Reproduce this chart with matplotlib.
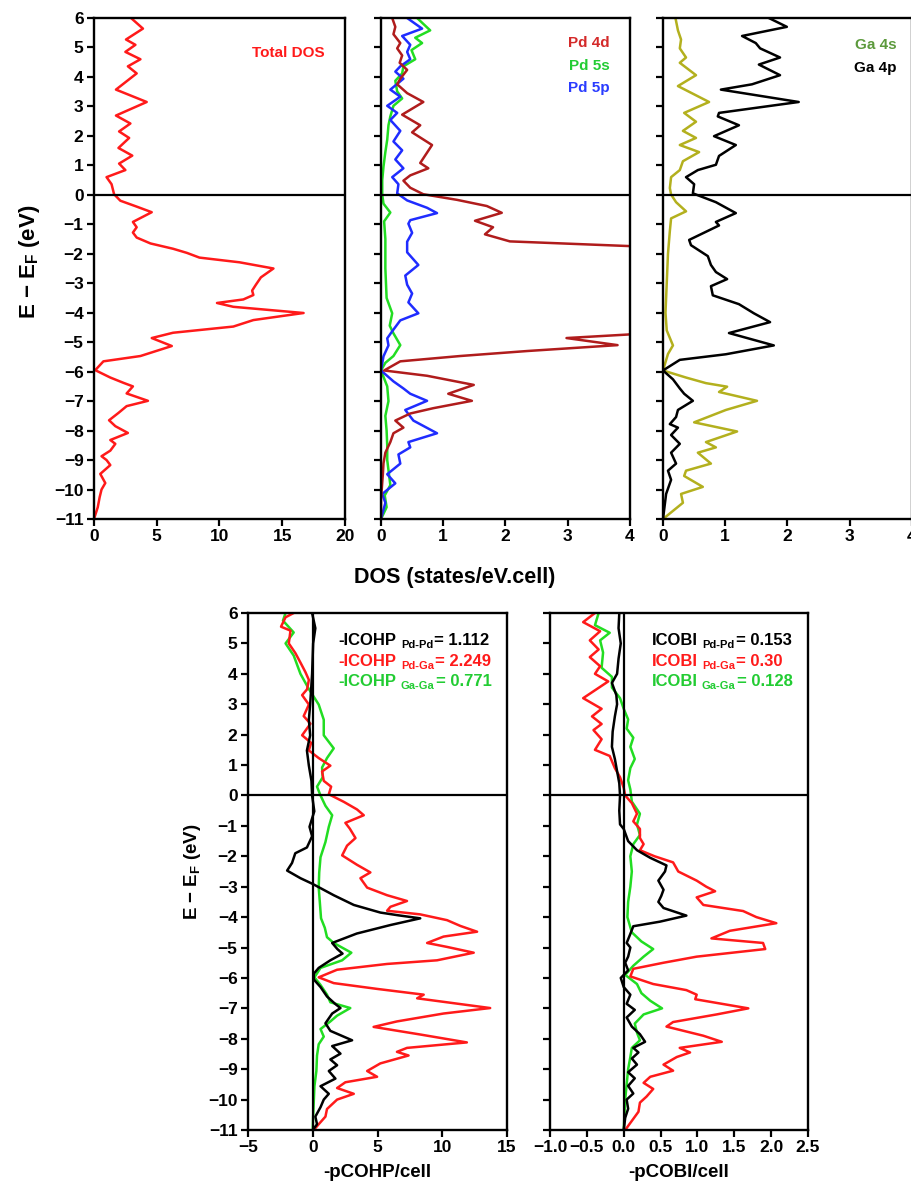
import numpy as np
import matplotlib
matplotlib.use("Agg")
import matplotlib.pyplot as plt

plt.rcParams['font.family'] = ['Liberation Sans', 'DejaVu Sans']
plt.rcParams['font.weight'] = 'bold'
plt.rcParams['axes.labelweight'] = 'bold'
plt.rcParams['mathtext.fontset'] = 'custom'
plt.rcParams['mathtext.rm'] = 'Liberation Sans:bold'
plt.rcParams['mathtext.it'] = 'Liberation Sans:bold'
plt.rcParams['mathtext.bf'] = 'Liberation Sans:bold'
plt.rcParams['mathtext.default'] = 'rm'
plt.rcParams['lines.solid_joinstyle'] = 'round'

# ---- data: (energy, value) pairs per curve ----
# Total DOS
e_tot = [6.0, 5.64, 5.27, 5.09, 4.85, 4.6, 4.36, 4.12, 3.57, 3.15, 2.69, 2.42, 2.15, 1.93, 1.59, 1.33,
         1.06, 0.84, 0.6, 0.36, 0.02, -0.2, -0.4, -0.59, -0.92, -1.1, -1.28, -1.45, -1.65, -1.83, -1.97,
         -2.13, -2.29, -2.5, -2.8, -3.05, -3.25, -3.4, -3.55, -3.67, -3.8, -4.01, -4.25, -4.47, -4.68,
         -4.86, -5.13, -5.47, -5.65, -5.95, -6.2, -6.38, -6.5, -6.74, -6.99, -7.17, -7.4, -7.65, -7.85,
         -8.08, -8.32, -8.45, -8.68, -8.87, -9.0, -9.17, -9.47, -9.78, -10.0, -10.26, -10.6, -11.0]
dos_tot = [2.95, 3.9, 2.55, 3.3, 2.5, 3.7, 2.7, 3.4, 1.75, 4.2, 1.75, 2.9, 2.0, 2.8, 1.95, 3.05,
           2.0, 2.5, 1.0, 1.4, 1.6, 2.1, 3.4, 4.6, 3.1, 3.4, 3.1, 3.4, 4.5, 6.3, 7.4,
           8.4, 11.6, 14.3, 13.3, 12.9, 12.6, 12.7, 11.9, 9.8, 11.1, 16.7, 12.7, 11.1, 6.3,
           4.6, 6.2, 3.7, 0.75, 0.1, 1.3, 2.35, 3.1, 2.6, 4.3, 2.6, 1.95, 1.2, 1.7,
           2.7, 1.3, 1.7, 1.3, 0.6, 1.0, 1.3, 0.5, 0.9, 0.6, 0.45, 0.3, 0.0]

# Pd 4d
e_pd4d = [6.0, 5.7, 5.45, 5.15, 4.97, 4.73, 4.48, 4.24, 3.94, 3.75, 3.45, 3.15, 2.72, 2.36, 2.12, 1.69,
          1.08, 0.9, 0.66, 0.48, 0.24, 0.02, -0.17, -0.38, -0.61, -0.88, -1.1, -1.34, -1.58, -1.74,
          -1.85, -2.4, -3.0, -4.0, -4.6, -4.74, -4.86, -5.1, -5.3, -5.47, -5.65, -5.96, -6.14, -6.45,
          -6.75, -6.99, -7.24, -7.42, -7.66, -7.9, -8.09, -8.39, -8.75, -9.11, -9.48, -10.33, -11.0]
dos_pd4d = [0.18, 0.23, 0.2, 0.31, 0.26, 0.34, 0.3, 0.42, 0.31, 0.26, 0.42, 0.68, 0.34, 0.63, 0.5, 0.82,
            0.63, 0.76, 0.47, 0.36, 0.47, 0.68, 1.22, 1.7, 1.94, 1.51, 1.8, 1.67, 2.07, 4.0,
            4.6, 6.5, 5.8, 7.0, 4.6, 3.97, 2.98, 3.8, 2.35, 1.27, 0.31, 0.05, 0.74, 1.49,
            1.08, 1.46, 0.84, 0.47, 0.23, 0.36, 0.2, 0.15, 0.07, 0.04, 0.03, 0.0, 0.0]

# Pd 5s
e_pd5s = [6.0, 5.58, 5.33, 5.15, 4.91, 4.6, 4.36, 4.12, 3.87, 3.51, 3.27, 3.02, 2.66, 2.36, 1.87, 1.45,
          0.96, 0.5, 0.0, -0.3, -0.6, -0.9, -1.5, -2.5, -3.5, -4.02, -4.44, -4.7, -5.1, -5.47, -5.7,
          -5.96, -6.5, -7.0, -7.5, -8.0, -8.5, -9.0, -9.85, -10.2, -10.6, -11.0]
dos_pd5s = [0.58, 0.79, 0.55, 0.66, 0.49, 0.55, 0.36, 0.34, 0.23, 0.26, 0.34, 0.2, 0.15, 0.12, 0.1, 0.07,
            0.04, 0.02, 0.02, 0.04, 0.15, 0.05, 0.07, 0.07, 0.09, 0.18, 0.14, 0.2, 0.31, 0.2, 0.07,
            0.0, 0.1, 0.12, 0.07, 0.09, 0.1, 0.1, 0.15, 0.06, 0.09, 0.0]

# Pd 5p
e_pd5p = [6.0, 5.64, 5.39, 5.09, 4.85, 4.6, 4.36, 4.18, 3.94, 3.57, 3.33, 3.02, 2.78, 2.54, 2.17, 1.81,
          1.51, 1.2, 0.9, 0.6, 0.36, 0.05, -0.19, -0.44, -0.62, -0.86, -0.98, -1.29, -1.59, -1.95,
          -2.38, -2.74, -3.05, -3.35, -3.65, -4.02, -4.26, -4.63, -4.87, -5.11, -5.48, -5.96, -6.33,
          -6.57, -6.75, -6.99, -7.3, -7.66, -8.09, -8.39, -8.57, -8.81, -9.12, -9.48, -9.79, -10.15,
          -10.45, -11.0]
dos_pd5p = [0.42, 0.66, 0.34, 0.47, 0.42, 0.47, 0.31, 0.23, 0.36, 0.15, 0.31, 0.1, 0.26, 0.15, 0.31, 0.2,
            0.34, 0.23, 0.36, 0.18, 0.28, 0.26, 0.42, 0.74, 0.9, 0.47, 0.44, 0.5, 0.42, 0.42,
            0.6, 0.39, 0.42, 0.5, 0.44, 0.6, 0.31, 0.18, 0.1, 0.12, 0.04, 0.0, 0.2,
            0.36, 0.47, 0.74, 0.39, 0.52, 0.9, 0.44, 0.47, 0.28, 0.31, 0.1, 0.23, 0.02,
            0.07, 0.0]

# Ga 4s
e_ga4s = [6.0, 5.58, 5.27, 4.97, 4.66, 4.48, 4.06, 3.69, 3.15, 2.78, 2.48, 2.17, 1.93, 1.69, 1.45, 1.14,
          0.84, 0.6, 0.23, 0.01, -0.25, -0.56, -0.8, -1.23, -2.0, -3.0, -4.0, -4.6, -5.11, -5.4, -5.96,
          -6.2, -6.39, -6.51, -6.69, -6.99, -7.3, -7.72, -8.03, -8.39, -8.57, -8.75, -9.12, -9.36,
          -9.54, -9.91, -10.15, -10.45, -11.0]
dos_ga4s = [0.2, 0.24, 0.29, 0.27, 0.37, 0.27, 0.53, 0.24, 0.74, 0.34, 0.53, 0.32, 0.53, 0.27, 0.58, 0.32,
            0.27, 0.13, 0.11, 0.13, 0.21, 0.37, 0.13, 0.11, 0.08, 0.06, 0.04, 0.06, 0.16, 0.08, 0.0,
            0.37, 0.69, 1.03, 0.9, 1.51, 1.01, 0.5, 1.19, 0.69, 0.85, 0.56, 0.77, 0.37,
            0.34, 0.64, 0.29, 0.32, 0.0]

# Ga 4p
e_ga4p = [6.0, 5.7, 5.39, 5.15, 4.97, 4.66, 4.42, 4.06, 3.75, 3.57, 3.15, 2.78, 2.66, 2.36, 1.99, 1.69,
          1.32, 1.02, 0.84, 0.6, 0.36, 0.05, -0.25, -0.62, -0.92, -1.04, -1.53, -1.71, -2.08, -2.38,
          -2.62, -2.86, -3.1, -3.41, -3.71, -4.02, -4.32, -4.69, -5.11, -5.41, -5.6, -5.96, -6.26,
          -6.57, -6.75, -6.99, -7.3, -7.54, -7.78, -7.9, -8.15, -8.45, -8.75, -9.12, -9.36, -9.67,
          -10.15, -11.0]
dos_ga4p = [1.7, 1.99, 1.27, 1.49, 1.56, 1.88, 1.54, 1.88, 1.43, 0.93, 2.18, 0.9, 0.88, 1.22, 0.82, 1.17,
            0.9, 0.85, 0.56, 0.37, 0.5, 0.48, 0.85, 1.17, 0.85, 0.9, 0.42, 0.45, 0.72, 0.77,
            0.85, 1.03, 0.77, 0.8, 1.22, 1.46, 1.72, 1.06, 1.78, 1.01, 0.27, 0.0, 0.16,
            0.27, 0.34, 0.48, 0.24, 0.21, 0.11, 0.24, 0.13, 0.27, 0.13, 0.21, 0.08, 0.13,
            0.05, 0.0]

# -pCOHP
e_cohp_pdpd = [6.0, 5.5, 5.0, 4.0, 2.99, 2.49, 1.98, 1.48, 0.98, 0.48, 0.0, -0.52, -1.03, -1.34, -1.71,
               -1.9, -2.22, -2.47, -2.72, -2.91, -3.28, -3.6, -3.85, -3.94, -4.04, -4.26, -4.54, -4.85,
               -5.05, -5.2, -5.42, -5.67, -5.86, -6.05, -6.3, -6.61, -6.86, -6.99, -7.17, -7.49, -7.74,
               -8.05, -8.24, -8.49, -8.68, -8.87, -9.06, -9.31, -9.56, -9.81, -10.0, -10.25, -10.56,
               -10.81, -11.0]
cohp_pdpd = [-0.05, 0.2, 0.03, -0.05, -0.2, -0.3, -0.2, -0.45, -0.3, -0.1, -0.05, 0.12, -0.25, -0.05, -0.45,
             -1.35, -1.6, -1.98, -0.95, 0.0, 1.62, 3.17, 5.22, 6.6, 8.3, 6.0, 3.4, 1.5,
             1.9, 2.3, 1.36, 0.46, 0.08, 0.08, 0.6, 1.1, 1.75, 2.14, 1.5, 0.98, 1.36,
             3.04, 1.5, 2.14, 1.36, 1.88, 1.24, 1.75, 0.6, 1.24, 0.85, 0.6, 0.2,
             0.33, 0.0]

e_cohp_pdga = [6.0, 5.86, 5.55, 5.42, 5.0, 4.68, 4.37, 4.06, 3.8, 3.49, 3.3, 2.99, 2.61, 2.36, 1.98, 1.73,
               1.48, 1.23, 0.98, 0.79, 0.48, 0.29, 0.04, -0.21, -0.46, -0.65, -0.9, -1.09, -1.4, -1.65,
               -1.97, -2.28, -2.53, -2.72, -3.03, -3.28, -3.47, -3.66, -3.79, -3.91, -4.1, -4.29, -4.48,
               -4.64, -4.85, -4.98, -5.17, -5.42, -5.54, -5.73, -5.98, -6.17, -6.36, -6.55, -6.67, -6.99,
               -7.17, -7.43, -7.61, -7.86, -8.12, -8.3, -8.43, -8.55, -8.81, -9.06, -9.25, -9.43, -9.62,
               -9.81, -10.0, -10.31, -10.56, -10.81, -11.0]
cohp_pdga = [-1.47, -2.1, -2.45, -1.72, -1.85, -1.34, -0.95, -0.57, -0.3, -0.44, -0.82, -0.3, -0.7, -0.18, -0.82, -0.13,
             -0.3, 0.46, 1.36, 0.72, 0.85, 1.42, 1.24, 2.4, 3.42, 3.94, 2.52, 2.86, 3.3, 2.65,
             2.27, 3.42, 4.45, 3.68, 4.2, 5.74, 7.28, 6.0, 5.74, 8.3, 10.37, 11.4, 12.69,
             10.1, 8.83, 10.37, 12.43, 9.6, 5.74, 1.88, 0.46, 1.62, 4.96, 8.57, 8.06, 13.7,
             10.1, 6.5, 4.7, 8.3, 11.9, 7.28, 6.5, 7.4, 5.22, 4.2, 4.97, 2.52, 1.88,
             3.17, 1.88, 1.1, 0.98, 0.46, 0.08]

e_cohp_gaga = [6.0, 5.75, 5.36, 5.0, 4.6, 4.0, 3.5, 2.99, 2.49, 1.98, 1.55, 1.23, 0.92, 0.6, 0.29, 0.0,
               -0.34, -0.65, -1.03, -1.53, -2.03, -2.53, -3.03, -3.53, -4.04, -4.35, -4.66, -4.85, -5.17,
               -5.42, -5.67, -5.98, -6.23, -6.55, -6.8, -6.99, -7.24, -7.43, -7.68, -7.93, -8.18, -8.55,
               -9.06, -9.56, -10.06, -10.56, -11.0]
cohp_gaga = [-2.1, -2.3, -1.47, -2.1, -1.47, -0.95, -0.3, 0.46, 0.85, 0.85, 1.62, 1.1, 0.72, 0.77, 0.33, 0.6,
             0.98, 1.5, 1.24, 0.98, 0.6, 0.5, 0.46, 0.55, 0.64, 0.93, 1.1, 1.62, 2.98,
             2.27, 0.6, 0.13, 0.6, 1.1, 1.36, 2.9, 1.88, 1.36, 0.6, 0.85, 0.46, 0.33,
             0.28, 0.13, 0.08, 0.03, 0.0]

# -pCOBI
e_cobi_pdpd = [6.0, 5.5, 5.0, 4.5, 4.0, 3.7, 3.3, 3.0, 2.6, 2.1, 1.6, 1.2, 0.8, 0.4, 0.0, -0.5, -0.95, -1.1,
               -1.5, -1.8, -2.05, -2.3, -2.5, -2.8, -3.1, -3.3, -3.5, -3.7, -3.95, -4.15, -4.3, -4.55,
               -4.85, -5.0, -5.3, -5.5, -5.75, -6.0, -6.3, -6.55, -6.85, -7.05, -7.3, -7.6, -7.85, -8.1,
               -8.3, -8.45, -8.65, -8.85, -9.1, -9.3, -9.55, -9.8, -10.0, -10.3, -10.6, -11.0]
cobi_pdpd = [-0.06, -0.07, -0.04, -0.07, -0.09, -0.16, -0.1, -0.09, -0.12, -0.15, -0.16, -0.12, -0.09, -0.06,
             -0.05, -0.06, -0.05, 0.0, 0.06, 0.18, 0.36, 0.58, 0.56, 0.47, 0.54, 0.51, 0.47, 0.54, 0.85,
             0.49, 0.13, 0.09, 0.04, 0.09, 0.06, 0.02, 0.06, -0.04, 0.0, 0.09, 0.04, 0.15, 0.04, 0.11,
             0.22, 0.29, 0.13, 0.2, 0.11, 0.18, 0.06, 0.15, 0.06, 0.13, 0.04, 0.06, 0.02, 0.0]

e_cobi_pdga = [6.0, 5.7, 5.4, 5.1, 4.8, 4.55, 4.25, 4.0, 3.75, 3.2, 2.85, 2.6, 2.35, 2.15, 1.85, 1.5, 1.3,
               0.9, 0.6, 0.25, 0.0, -0.25, -0.6, -0.85, -1.1, -1.4, -1.6, -1.8, -2.0, -2.2, -2.5, -2.8,
               -3.0, -3.15, -3.35, -3.6, -3.8, -4.0, -4.2, -4.45, -4.7, -4.85, -5.05, -5.3, -5.5, -5.7,
               -5.95, -6.2, -6.4, -6.55, -6.7, -7.0, -7.2, -7.45, -7.6, -7.9, -8.1, -8.3, -8.45, -8.6,
               -8.85, -9.05, -9.25, -9.45, -9.65, -9.9, -10.1, -10.4, -10.7, -11.0]
cobi_pdga = [-0.39, -0.55, -0.32, -0.46, -0.34, -0.46, -0.32, -0.39, -0.21, -0.55, -0.3, -0.43, -0.3, -0.41,
             -0.3, -0.39, -0.19, -0.12, -0.05, 0.0, 0.02, 0.11, 0.18, 0.13, 0.22, 0.22, 0.27, 0.22, 0.42,
             0.67, 0.74, 0.99, 1.12, 1.24, 0.99, 1.08, 1.62, 1.8, 2.07, 1.44, 1.19, 1.89, 1.92, 0.99,
             0.54, 0.13, 0.09, 0.4, 0.85, 0.99, 0.97, 1.69, 1.26, 0.67, 0.58, 1.08, 1.33, 0.76, 0.9,
             0.72, 0.54, 0.67, 0.36, 0.27, 0.4, 0.31, 0.22, 0.2, 0.11, 0.02]

e_cobi_gaga = [6.0, 5.6, 5.35, 5.1, 4.7, 4.2, 3.9, 3.55, 3.2, 2.85, 2.5, 2.2, 1.9, 1.6, 1.2, 0.9, 0.5, 0.2,
               -0.2, -0.6, -0.95, -1.3, -1.6, -2.0, -2.5, -3.0, -3.5, -4.0, -4.5, -4.8, -5.05, -5.3, -5.6,
               -5.9, -6.2, -6.5, -6.75, -7.0, -7.2, -7.5, -7.8, -8.05, -8.3, -8.6, -9.0, -9.5, -10.0,
               -10.5, -11.0]
cobi_gaga = [-0.34, -0.39, -0.19, -0.32, -0.28, -0.3, -0.16, -0.16, -0.05, 0.0, 0.06, 0.04, 0.13, 0.09, 0.15,
             0.09, 0.06, 0.09, 0.11, 0.22, 0.18, 0.22, 0.13, 0.09, 0.11, 0.09, 0.06, 0.05, 0.11, 0.24,
             0.4, 0.27, 0.13, 0.02, 0.18, 0.24, 0.36, 0.52, 0.27, 0.15, 0.18, 0.22, 0.11, 0.09, 0.06,
             0.04, 0.02, 0.01, 0.0]

# labels
cohp_names = ["Pd-Pd", "Pd-Ga", "Ga-Ga"]
icohp_vals = ["1.112", "2.249", "0.771"]
icobi_vals = ["0.153", "0.30", "0.128"]

RED = '#ff1a1a'
DARKRED = '#b01c1c'
GREEN = '#22dd22'
BLUE = '#1f2cff'
OLIVE = '#b3b01e'
BLACK = '#000000'
LW = 1.8
TICK_FS = 12.5

W, H = 912, 1188
fig = plt.figure(figsize=(W / 100, H / 100), dpi=100)


def rect(x0, x1, ytop, ybot):
    return [x0 / W, 1 - ybot / H, (x1 - x0) / W, (ybot - ytop) / H]


def style(ax, ylabels=True):
    for s in ax.spines.values():
        s.set_linewidth(1.7)
    ax.set_ylim(-11, 6)
    ax.set_yticks(range(-11, 7))
    ax.tick_params(direction='out', length=5, width=1.6, labelsize=TICK_FS, pad=2.5)
    if not ylabels:
        ax.tick_params(labelleft=False)
    ax.axhline(0, color='k', lw=1.6, zorder=3)


ax1 = fig.add_axes(rect(94, 345, 18, 519))
ax2 = fig.add_axes(rect(381, 630, 18, 519))
ax3 = fig.add_axes(rect(663, 912, 18, 519))
ax4 = fig.add_axes(rect(248, 507, 613, 1130))
ax5 = fig.add_axes(rect(550, 808, 613, 1130))

# top: DOS panels
ax1.plot(dos_tot, e_tot, color=RED, lw=LW)
ax1.set_xlim(0, 20)
ax1.set_xticks([0, 5, 10, 15, 20])
style(ax1)
ax1.text(18.4, 4.8, 'Total DOS', color=RED, fontsize=11, ha='right', va='center')

ax2.plot(dos_pd5s, e_pd5s, color=GREEN, lw=LW)
ax2.plot(dos_pd5p, e_pd5p, color=BLUE, lw=LW)
ax2.plot(dos_pd4d, e_pd4d, color=DARKRED, lw=LW)
ax2.set_xlim(0, 4)
ax2.set_xticks([0, 1, 2, 3, 4])
style(ax2, ylabels=False)
for lab, col, yy in zip(['Pd 4d', 'Pd 5s', 'Pd 5p'], ['#d42a2a', '#22cc33', '#2a3cff'], [5.15, 4.38, 3.63]):
    ax2.text(3.68, yy, lab, color=col, fontsize=11, ha='right', va='center')

ax3.plot(dos_ga4s, e_ga4s, color=OLIVE, lw=LW)
ax3.plot(dos_ga4p, e_ga4p, color=BLACK, lw=LW)
ax3.set_xlim(0, 4)
ax3.set_xticks([0, 1, 2, 3, 4])
style(ax3, ylabels=False)
ax3.text(3.75, 5.08, 'Ga 4s', color='#5c9a3c', fontsize=11, ha='right', va='center')
ax3.text(3.75, 4.3, 'Ga 4p', color=BLACK, fontsize=11, ha='right', va='center')

fig.text(30 / W, 1 - 262 / H, 'E \u2212 E$_F$ (eV)', rotation=90, ha='center', va='center', fontsize=16)
fig.text(455 / W, 1 - 577 / H, 'DOS (states/eV.cell)', ha='center', va='center', fontsize=15.5)

# bottom: COHP / COBI panels
ax4.plot(cohp_gaga, e_cohp_gaga, color=GREEN, lw=LW)
ax4.plot(cohp_pdga, e_cohp_pdga, color=RED, lw=LW)
ax4.plot(cohp_pdpd, e_cohp_pdpd, color=BLACK, lw=LW)
ax4.axvline(0, color='k', lw=1.6)
ax4.set_xlim(-5, 15)
ax4.set_xticks([-5, 0, 5, 10, 15])
style(ax4)
ax4.set_xlabel('-pCOHP/cell', fontsize=13.5, labelpad=6)
ax4.set_ylabel('E \u2212 E$_F$ (eV)', fontsize=13.5, labelpad=4)

ax5.plot(cobi_gaga, e_cobi_gaga, color=GREEN, lw=LW)
ax5.plot(cobi_pdga, e_cobi_pdga, color=RED, lw=LW)
ax5.plot(cobi_pdpd, e_cobi_pdpd, color=BLACK, lw=LW)
ax5.axvline(0, color='k', lw=1.6)
ax5.set_xlim(-1.0, 2.5)
ax5.set_xticks(np.arange(-1.0, 2.51, 0.5))
ax5.set_xticklabels(['\u22121.0', '\u22120.5', '0.0', '0.5', '1.0', '1.5', '2.0', '2.5'])
style(ax5, ylabels=False)
ax5.set_xlabel('-pCOBI/cell', fontsize=13.5, labelpad=6)


def int_label(ax, x, y, head, sub, val, color):
    t1 = ax.text(x, y, head, color=color, fontsize=12, ha='left', va='baseline')
    t2 = ax.annotate(sub, xy=(1, 0), xycoords=t1, xytext=(3, -1.5), textcoords='offset points',
                     color=color, fontsize=8, ha='left', va='bottom')
    ax.annotate('= ' + val, xy=(1, 0), xycoords=(t2, t1), xytext=(1, 0), textcoords='offset points',
                color=color, fontsize=12, ha='left', va='bottom')


row_cols = [BLACK, RED, '#22cc33']
row_y = [4.95, 4.27, 3.6]
for name, v1, v2, col, yy in zip(cohp_names, icohp_vals, icobi_vals, row_cols, row_y):
    int_label(ax4, 2.0, yy, '-ICOHP', name, v1, col)
    int_label(ax5, 0.38, yy, 'ICOBI', name, v2, col)

fig.savefig('out.png', dpi=100)
